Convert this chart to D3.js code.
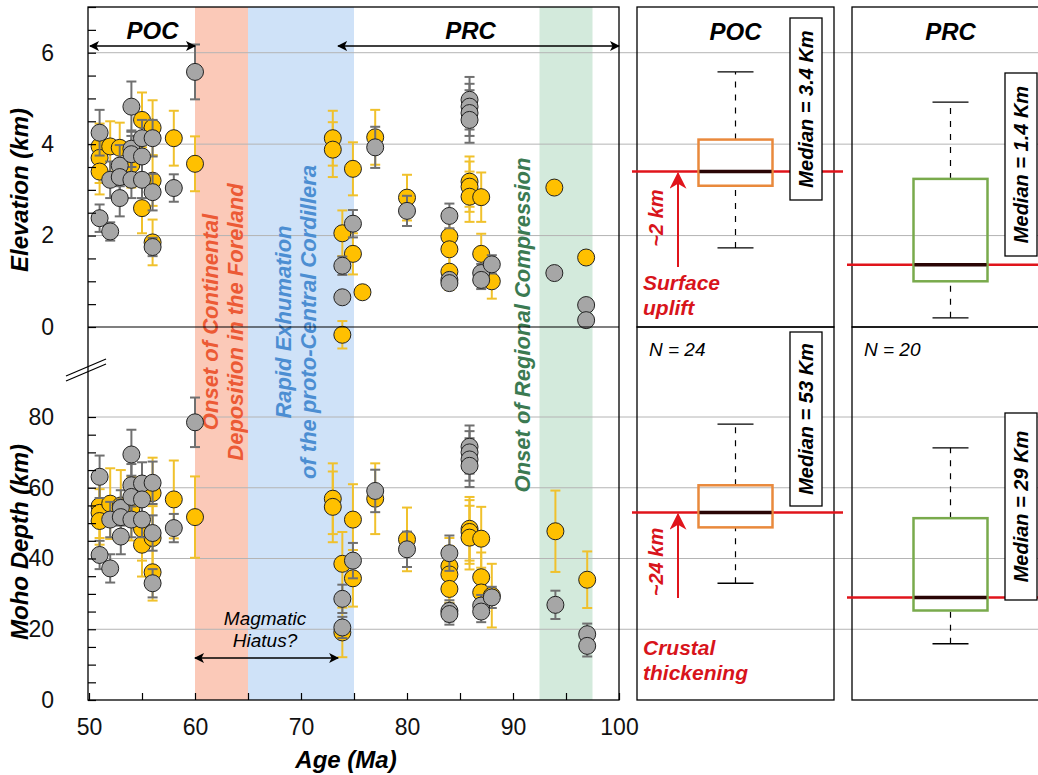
<!DOCTYPE html>
<html>
<head>
<meta charset="utf-8">
<script src="https://cdn.jsdelivr.net/npm/d3@7"></script>
<style>
  body { margin: 0; background: #fff; }
  text { font-family: "Liberation Sans", Arial, sans-serif; }
</style>
</head>
<body>
<script>
// ---- data ----
var ageTicks = [50, 60, 70, 80, 90, 100];
var elevTicks = [0, 2, 4, 6];
var mohoTicks = [0, 20, 40, 60, 80];

// [age, value, error]
var elevGray = [
  [51, 4.25, 0.5], [51, 2.38, 0.3], [52, 3.22, 0.4], [52, 2.09, 0.2], [52.9, 3.53, 0.45],
  [52.9, 3.28, 0.4], [52.9, 2.82, 0.4], [54, 4.82, 0.55], [54, 3.9, 0.4], [54, 3.78, 0.4],
  [54, 3.22, 0.4], [55, 4.13, 0.4], [55, 3.73, 0.4], [55, 3.22, 0.4], [56, 4.13, 0.4],
  [56, 2.95, 0.4], [56, 1.75, 0.2], [58, 3.04, 0.3], [60, 5.58, 0.6],
  [73.9, 1.34, 0.2], [73.9, 0.65, 0.1], [74.9, 2.26, 0.3], [77, 3.93, 0.45], [80, 2.54, 0.33],
  [84, 2.43, 0.27], [84, 1.03, 0.1], [84, 0.96, 0.1], [85.9, 4.97, 0.5], [85.9, 4.82, 0.5],
  [85.9, 4.68, 0.5], [85.9, 4.53, 0.5], [87, 1.18, 0.2], [87, 1.03, 0.2], [88, 1.37, 0.2],
  [93.9, 1.18, 0.1], [96.9, 0.48, 0.1], [96.9, 0.15, 0.1]
];
var elevOrange = [
  [51, 3.95, 0.5], [51, 3.7, 0.55], [51, 3.4, 0.5], [52, 3.95, 0.55], [52.9, 3.92, 0.55],
  [54, 3.55, 0.5], [55, 4.53, 0.6], [55, 2.6, 0.55], [56, 4.36, 0.6], [56, 3.2, 0.55],
  [56, 1.85, 0.5], [58, 4.13, 0.6], [60, 3.57, 0.6],
  [73, 4.13, 0.6], [73, 3.88, 0.6], [73.9, 2.05, 0.5], [73.9, -0.17, 0.3], [74.9, 3.46, 0.58],
  [74.9, 1.6, 0.45], [75.8, 0.76, 0], [77, 4.15, 0.6], [80, 2.83, 0.5], [84, 1.98, 0.4],
  [84, 1.7, 0.4], [84, 1.21, 0.4], [85.9, 3.18, 0.55], [85.9, 3.07, 0.55], [85.9, 2.85, 0.55],
  [87, 2.84, 0.54], [87, 1.6, 0.44], [88, 1.0, 0.38], [93.9, 3.05, 0], [96.9, 1.52, 0]
];
var mohoGray = [
  [51, 63.1, 6], [51, 41.0, 4], [52, 51, 5], [52, 37.2, 4], [53, 54.3, 5], [53, 51.7, 5],
  [53, 46.2, 5], [54, 69.4, 7], [54, 60.7, 6], [54, 57.4, 6], [54, 51, 5], [55, 61.2, 6],
  [55, 56.7, 6], [55, 51, 5], [56, 61.4, 6], [56, 47.2, 5], [56, 33.0, 4], [58, 48.6, 4],
  [60, 78.5, 7],
  [73.9, 28.6, 4], [73.9, 20.5, 3], [74.9, 39.4, 5], [77, 59.1, 6], [80, 42.6, 5],
  [84, 41.5, 5], [84, 25.2, 3], [84, 24.3, 3], [85.9, 71.6, 6], [85.9, 70.0, 6],
  [85.9, 68.0, 6], [85.9, 66.2, 6], [87, 26.7, 3], [87, 25.0, 3], [88, 29.0, 3],
  [94, 26.9, 4], [97, 18.6, 3], [97, 15.3, 3]
];
var mohoOrange = [
  [51, 54.8, 9], [51, 52.9, 9], [51, 50.6, 9], [52, 55.5, 10], [53, 55, 10], [54, 54.1, 9],
  [55, 48.4, 9], [55, 43.9, 9], [56, 58.5, 10], [56, 45.8, 9], [56, 36.1, 8], [58, 56.7, 11],
  [60, 51.7, 11.5],
  [73, 56.9, 10], [73, 54.6, 10], [73.9, 38.5, 9], [73.9, 19.1, 7], [74.9, 51.0, 10],
  [74.9, 34.4, 8], [77, 56.9, 10], [80, 45.4, 9], [84, 37.8, 8], [84, 35.5, 8], [84, 31.4, 8],
  [85.9, 48.4, 9], [85.9, 47.5, 9], [85.9, 45.9, 9], [87, 45.6, 9], [87, 34.7, 7],
  [87, 30.4, 7], [88, 29.5, 9], [94, 47.7, 11.5], [97, 34.0, 8]
];

// shaded episodes [start, end] in Ma
var bandAges = [[60, 65], [65, 75], [92.5, 97.5]];

// box plots: [min, q1, median, q3, max]
var groups = ["POC", "PRC"];
var elevBox = [[1.73, 3.09, 3.4, 4.1, 5.58], [0.2, 1.0, 1.36, 3.24, 4.92]];
var mohoBox = [[33, 48.8, 53, 60.7, 78], [15.9, 25.3, 29, 51.4, 71.3]];
var elevMedianText = ["Median = 3.4 Km", "Median = 1.4 Km"];
var mohoMedianText = ["Median = 53 Km", "Median = 29 Km"];
var nText = ["N = 24", "N = 20"];

window.onload = function(){
  var w = 1038, h = 775;
  var svg = d3.select("body").append("svg")
    .attr("width", w)
    .attr("height", h);

  var defs = svg.append("defs");
  defs.append("marker")
    .attr("id", "arrBlack")
    .attr("viewBox", "0 0 10 10")
    .attr("refX", 9).attr("refY", 5)
    .attr("markerWidth", 10).attr("markerHeight", 10)
    .attr("markerUnits", "userSpaceOnUse")
    .attr("orient", "auto-start-reverse")
    .append("path")
    .attr("d", "M0,0 L10,5 L0,10 L2.5,5 Z")
    .attr("fill", "#000");
  defs.append("marker")
    .attr("id", "arrRed")
    .attr("viewBox", "0 0 10 10")
    .attr("refX", 9).attr("refY", 5)
    .attr("markerWidth", 17).attr("markerHeight", 17)
    .attr("markerUnits", "userSpaceOnUse")
    .attr("orient", "auto")
    .append("path")
    .attr("d", "M0,0 L10,5 L0,10 L3,5 Z")
    .attr("fill", "#e0141b");

  var x = d3.scaleLinear().domain([50, 100]).range([89, 619]);
  var yElev = d3.scaleLinear().domain([0, 7]).range([327, 7]);
  var yMoho = d3.scaleLinear().domain([0, 80]).range([700, 417]);
  var panel = d3.scaleBand().domain(groups).range([637, 1049]).paddingInner(18 / 215);

  // shaded bands
  var bandFill = ["#fbc9b8", "#cfe2f8", "#d3eadc"];
  svg.selectAll(".band")
    .data(bandAges)
    .enter()
    .append("rect")
    .attr("class", "band")
    .attr("x", function(d){ return x(d[0]); })
    .attr("width", function(d){ return x(d[1]) - x(d[0]); })
    .attr("y", 7)
    .attr("height", 693)
    .style("fill", function(d, i){ return bandFill[i]; });

  // horizontal grid lines across everything
  var grid = svg.append("g").attr("class", "grid");
  grid.selectAll(".ge")
    .data(elevTicks.filter(function(d){ return d > 0; }))
    .enter().append("line")
    .attr("x1", 88).attr("x2", w)
    .attr("y1", function(d){ return yElev(d); })
    .attr("y2", function(d){ return yElev(d); });
  grid.selectAll(".gm")
    .data(mohoTicks.filter(function(d){ return d > 0; }))
    .enter().append("line")
    .attr("x1", 88).attr("x2", w)
    .attr("y1", function(d){ return yMoho(d); })
    .attr("y2", function(d){ return yMoho(d); });
  grid.selectAll("line").style("stroke", "#b4b4b4").style("stroke-width", 1);

  // rotated text helper
  function vtext(xp, yp, str, color, size, weight){
    return svg.append("text")
      .attr("transform", "translate(" + xp + "," + yp + ") rotate(-90)")
      .attr("text-anchor", "middle")
      .style("font-size", size + "px")
      .style("font-weight", weight)
      .style("font-style", "italic")
      .style("fill", color)
      .text(str);
  }
  vtext(218, 322, "Onset of Continental", "#ec5a35", 22, "bold");
  vtext(243, 322, "Deposition in the Foreland", "#ec5a35", 22, "bold");
  vtext(291, 322, "Rapid Exhumation", "#4c8ed2", 22, "bold");
  vtext(316, 322, "of the proto-Central Cordillera", "#4c8ed2", 22, "bold");
  vtext(530, 325, "Onset of Regional Compression", "#3b7a52", 22, "bold");

  // scatter: error bars then points
  function errBars(data, y, errColor){
    var g = svg.append("g");
    var eb = g.selectAll(".eb")
      .data(data.filter(function(d){ return d[2] > 0; }))
      .enter().append("g");
    eb.append("line")
      .attr("x1", function(d){ return x(d[0]); })
      .attr("x2", function(d){ return x(d[0]); })
      .attr("y1", function(d){ return y(d[1] - d[2]); })
      .attr("y2", function(d){ return y(d[1] + d[2]); });
    [-1, 1].forEach(function(s){
      eb.append("line")
        .attr("x1", function(d){ return x(d[0]) - 5; })
        .attr("x2", function(d){ return x(d[0]) + 5; })
        .attr("y1", function(d){ return y(d[1] + s * d[2]); })
        .attr("y2", function(d){ return y(d[1] + s * d[2]); });
    });
    eb.selectAll("line").style("stroke", errColor).style("stroke-width", 2);
    return g;
  }
  function dots(g, data, y, fill){
    g.selectAll(".pt")
      .data(data)
      .enter().append("circle")
      .attr("cx", function(d){ return x(d[0]); })
      .attr("cy", function(d){ return y(d[1]); })
      .attr("r", 8.5)
      .style("fill", fill)
      .style("stroke", "#222")
      .style("stroke-width", 1);
  }
  var gEO = errBars(elevOrange, yElev, "#f0c12c");
  var gEG = errBars(elevGray, yElev, "#707070");
  var gMO = errBars(mohoOrange, yMoho, "#f0c12c");
  var gMG = errBars(mohoGray, yMoho, "#707070");
  dots(gEO, elevOrange, yElev, "#ffc000");
  dots(gEG, elevGray, yElev, "#a6a6a6");
  dots(gMO, mohoOrange, yMoho, "#ffc000");
  dots(gMG, mohoGray, yMoho, "#a6a6a6");

  // frame of main plot + zero line
  svg.append("rect")
    .attr("x", 88).attr("y", 7).attr("width", 531).attr("height", 693)
    .style("fill", "none").style("stroke", "#000").style("stroke-width", 1.3);
  svg.append("line")
    .attr("x1", 88).attr("x2", 619).attr("y1", yElev(0)).attr("y2", yElev(0))
    .style("stroke", "#000").style("stroke-width", 1.2);

  // axes: inward ticks
  var minorElev = d3.range(0, 7.01, 0.5);
  var minorMoho = d3.range(0, 80.1, 5);
  var minorAge = d3.range(50, 100.1, 5);
  svg.append("g").attr("transform", "translate(88,0)")
    .call(d3.axisRight(yElev).tickValues(minorElev).tickSize(8).tickFormat(""));
  svg.append("g").attr("transform", "translate(88,0)")
    .call(d3.axisRight(yMoho).tickValues(minorMoho).tickSize(8).tickFormat(""));
  svg.append("g").attr("transform", "translate(0,700)")
    .call(d3.axisTop(x).tickValues(minorAge).tickSize(7).tickFormat(""));
  svg.selectAll(".domain").remove();
  svg.selectAll(".tick line").style("stroke", "#000").style("stroke-width", 1.2);

  // tick labels
  svg.append("g").attr("class", "lab").attr("transform", "translate(88,0)")
    .call(d3.axisLeft(yElev).tickValues(elevTicks).tickSize(0).tickPadding(34)
      .tickFormat(d3.format("d")));
  svg.append("g").attr("class", "lab").attr("transform", "translate(88,0)")
    .call(d3.axisLeft(yMoho).tickValues(mohoTicks).tickSize(0).tickPadding(34)
      .tickFormat(d3.format("d")));
  svg.append("g").attr("class", "lab").attr("transform", "translate(0,700)")
    .call(d3.axisBottom(x).tickValues(ageTicks).tickSize(0).tickPadding(19)
      .tickFormat(d3.format("d")));
  svg.selectAll(".lab .domain").remove();
  svg.selectAll(".lab text")
    .style("font-family", "'Liberation Sans', Arial, sans-serif")
    .style("font-size", "23px")
    .style("fill", "#111");

  // axis break marks
  [0, 5].forEach(function(o){
    svg.append("line")
      .attr("x1", 66).attr("y1", 376 + o).attr("x2", 106).attr("y2", 359 + o)
      .style("stroke", "#000").style("stroke-width", 1.2);
  });

  // axis titles
  function title(xp, yp, str, rot){
    svg.append("text")
      .attr("transform", "translate(" + xp + "," + yp + ")" + (rot ? " rotate(-90)" : ""))
      .attr("text-anchor", "middle")
      .style("font-size", "24px")
      .style("font-weight", "bold")
      .style("font-style", "italic")
      .text(str);
  }
  title(28, 190, "Elevation (km)", true);
  title(28, 542, "Moho Depth (km)", true);
  title(346, 768, "Age (Ma)", false);

  // group arrows at the top of the scatter
  function dblArrow(x1, x2, yp){
    svg.append("line")
      .attr("x1", x1).attr("x2", x2).attr("y1", yp).attr("y2", yp)
      .attr("marker-start", "url(#arrBlack)")
      .attr("marker-end", "url(#arrBlack)")
      .style("stroke", "#000").style("stroke-width", 1.3);
  }
  dblArrow(x(50) + 1, x(60), 46);
  dblArrow(x(73.5), x(100), 46);
  dblArrow(x(60), x(73.5), 658);
  title(x(56), 39, "POC", false);
  title(x(86), 39, "PRC", false);
  svg.append("text").attr("x", 265).attr("y", 625).attr("text-anchor", "middle")
    .style("font-size", "19px").style("font-style", "italic").text("Magmatic");
  svg.append("text").attr("x", 265).attr("y", 647).attr("text-anchor", "middle")
    .style("font-size", "19px").style("font-style", "italic").text("Hiatus?");

  // ---- box plot panels ----
  var bw = panel.bandwidth();
  function boxPanel(i, stats, y, y0, y1, color, medText, labY0, labY1){
    var g = groups[i];
    var px = panel(g), cx = px + bw / 2;
    svg.append("rect")
      .attr("x", px).attr("y", y0).attr("width", bw).attr("height", y1 - y0)
      .style("fill", "none").style("stroke", "#000").style("stroke-width", 1.3);
    // whiskers
    [[stats[0], stats[1]], [stats[3], stats[4]]].forEach(function(p){
      svg.append("line")
        .attr("x1", cx).attr("x2", cx).attr("y1", y(p[0])).attr("y2", y(p[1]))
        .style("stroke", "#000").style("stroke-width", 1.2)
        .style("stroke-dasharray", "6,7");
    });
    [stats[0], stats[4]].forEach(function(v){
      svg.append("line")
        .attr("x1", cx - 18).attr("x2", cx + 18).attr("y1", y(v)).attr("y2", y(v))
        .style("stroke", "#000").style("stroke-width", 1.3);
    });
    // red median level line
    svg.append("line")
      .attr("x1", px - 5).attr("x2", px + bw + 9)
      .attr("y1", y(stats[2])).attr("y2", y(stats[2]))
      .style("stroke", "#e0141b").style("stroke-width", 2.5);
    svg.append("rect")
      .attr("x", cx - 37).attr("width", 74)
      .attr("y", y(stats[3])).attr("height", y(stats[1]) - y(stats[3]))
      .style("fill", "none").style("stroke", color).style("stroke-width", 2.5);
    svg.append("line")
      .attr("x1", cx - 36).attr("x2", cx + 36)
      .attr("y1", y(stats[2])).attr("y2", y(stats[2]))
      .style("stroke", "#2a0505").style("stroke-width", 3.5);
    // median label
    svg.append("rect")
      .attr("x", px + 153).attr("width", 32)
      .attr("y", labY0).attr("height", labY1 - labY0)
      .style("fill", "#fff").style("stroke", "#000").style("stroke-width", 1.3);
    vtext(px + 176, (labY0 + labY1) / 2, medText, "#000", 20, "bold");
  }
  var boxColors = ["#e9893c", "#79aa4c"];
  boxPanel(0, elevBox[0], yElev, 7, 327, boxColors[0], elevMedianText[0], 18, 200);
  boxPanel(1, elevBox[1], yElev, 7, 327, boxColors[1], elevMedianText[1], 73, 256);
  boxPanel(0, mohoBox[0], yMoho, 327, 700, boxColors[0], mohoMedianText[0], 332, 506);
  boxPanel(1, mohoBox[1], yMoho, 327, 700, boxColors[1], mohoMedianText[1], 413, 600);

  groups.forEach(function(g, i){
    title(panel(g) + bw / 2, 40, g, false);
    svg.append("text")
      .attr("x", panel(g) + 12).attr("y", 356)
      .style("font-size", "19px").style("font-style", "italic")
      .text(nText[i]);
  });

  // red arrows and notes in the POC panels
  var ax = panel("POC") + 41;
  function redArrow(yFrom, yTo){
    svg.append("line")
      .attr("x1", ax).attr("x2", ax).attr("y1", yFrom).attr("y2", yTo + 2)
      .attr("marker-end", "url(#arrRed)")
      .style("stroke", "#e0141b").style("stroke-width", 2);
  }
  redArrow(267, yElev(elevBox[0][2]));
  redArrow(598, yMoho(mohoBox[0][2]));
  vtext(663, 218, "~2 km", "#d8141b", 20, "bold");
  vtext(663, 562, "~24 km", "#d8141b", 20, "bold");
  function redNote(yp, str){
    svg.append("text").attr("x", 643).attr("y", yp)
      .style("font-size", "21px").style("font-weight", "bold").style("font-style", "italic")
      .style("fill", "#d8141b").text(str);
  }
  redNote(290, "Surface");
  redNote(315, "uplift");
  redNote(655, "Crustal");
  redNote(680, "thickening");
};
</script>
</body>
</html>
